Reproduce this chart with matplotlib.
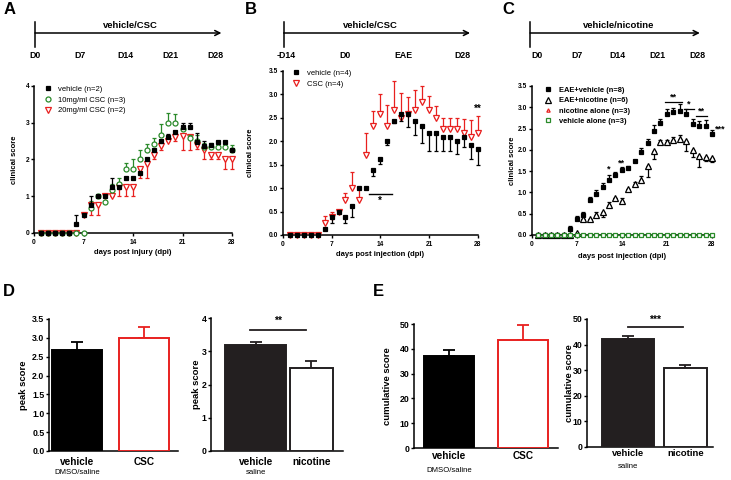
import numpy as np
import matplotlib
matplotlib.use('Agg')
import matplotlib.pyplot as plt

plt.rcParams['font.family'] = 'Liberation Sans'
plt.rcParams['font.weight'] = 'bold'
plt.rcParams['axes.linewidth'] = 1.1
plt.rcParams['xtick.major.width'] = 1.0
plt.rcParams['ytick.major.width'] = 1.0
plt.rcParams['xtick.major.size'] = 2.5
plt.rcParams['ytick.major.size'] = 2.5
plt.rcParams['xtick.major.pad'] = 1.5
plt.rcParams['ytick.major.pad'] = 1.0

# ---- data ----
days = np.arange(1, 29)

# panel A (signed error: + up, - down)
a_vehicle = [0, 0, 0, 0, 0, 0.25, 0.5, 0.75, 1.0, 1.0, 1.25, 1.25, 1.5, 1.5, 1.63, 2.0, 2.25, 2.5, 2.6,
             2.75, 2.88, 2.88, 2.48, 2.38, 2.4, 2.47, 2.47, 2.25]
a_vehicle_err = [0, 0, 0, 0, 0, 0.25, 0, 0.25, 0, 0, 0.25, 0, 0, 0, 0, 0, 0, 0, 0.1,
                 0, 0.12, 0.12, 0.25, 0.12, 0, 0, 0, 0]
a_csc10 = [0, 0, 0, 0, 0, 0, 0, 0.67, 1.0, 0.85, 1.17, 1.33, 1.75, 1.75, 2.0, 2.25, 2.42, 2.67, 3.0,
           3.0, 2.83, 2.58, 2.5, 2.33, 2.33, 2.33, 2.33, 2.25]
a_csc10_err = [0, 0, 0, 0, 0, 0, 0, 0.2, 0, 0, 0.15, 0.17, 0.15, 0.25, 0.25, 0.17, 0.17, 0.3, 0.27,
               0.25, 0.08, 0.08, 0.17, 0.12, 0.12, 0.12, 0.12, 0.15]
a_csc20 = [0, 0, 0, 0, 0, 0, 0.5, 0.75, 0.75, 1.0, 1.0, 1.25, 1.25, 1.25, 1.75, 1.88, 2.12, 2.38, 2.5,
           2.62, 2.65, 2.6, 2.4, 2.25, 2.12, 2.12, 2.0, 2.0]
a_csc20_err = [0, 0, 0, 0, 0, 0, 0, -0.25, -0.25, 0, 0, -0.25, -0.25, -0.25, -0.25, -0.38, -0.12, -0.12, 0,
               -0.12, -0.4, -0.35, -0.12, -0.25, -0.12, -0.12, -0.25, -0.25]

# panel B
b_vehicle = [0, 0, 0, 0, 0, 0.13, 0.38, 0.5, 0.38, 0.62, 1.0, 1.0, 1.38, 1.62, 2.0, 2.42, 2.58, 2.58, 2.42,
             2.33, 2.17, 2.17, 2.08, 2.08, 2.0, 2.08, 1.92, 1.83]
b_vehicle_err = [0, 0, 0, 0, 0, 0, -0.12, 0, -0.12, -0.24, 0, 0, -0.12, -0.1, -0.08, -0.03, -0.16, -0.28, -0.3,
                 -0.38, -0.37, -0.37, -0.3, -0.3, -0.28, -0.2, -0.3, -0.33]
b_csc = [0, 0, 0, 0, 0, 0.25, 0.38, 0.5, 0.75, 1.0, 0.75, 1.7, 2.33, 2.58, 2.33, 2.67, 2.5, 2.58, 2.67,
         2.83, 2.67, 2.5, 2.25, 2.25, 2.25, 2.17, 2.08, 2.17]
b_csc_err = [0, 0, 0, 0, 0, 0.15, 0.12, 0, 0.15, 0.35, 0.25, 0.47, 0.32, 0.42, 0.44, 0.6, 0.52, 0.37, 0.41,
             0.34, 0.3, 0.25, 0.25, 0.25, 0.25, 0.3, 0.37, 0.36]

# panel C
c_vehicle = [0, 0, 0, 0, 0, 0.13, 0.38, 0.48, 0.82, 0.96, 1.13, 1.3, 1.42, 1.52, 1.58, 1.73, 1.95, 2.15, 2.44,
             2.63, 2.85, 2.88, 2.92, 2.85, 2.6, 2.55, 2.57, 2.38]
c_vehicle_err = [0, 0, 0, 0, 0, 0.08, 0.07, 0.05, 0.08, 0.09, 0.1, 0.1, 0.07, 0.07, 0.04, 0.04, 0.1, 0.1, 0.14,
                 0.1, 0.1, 0.1, 0.15, 0.12, 0.12, 0.12, 0.12, 0.08]
c_nicotine = [0, 0, 0, 0, 0, 0, 0.05, 0.38, 0.38, 0.47, 0.55, 0.7, 0.88, 0.8, 1.07, 1.2, 1.3, 1.62, 1.97,
              2.18, 2.18, 2.22, 2.25, 2.2, 2.0, 1.85, 1.83, 1.8]
c_nicotine_err = [0, 0, 0, 0, 0, 0, 0, 0, 0, 0.07, -0.12, 0.07, 0, 0.06, 0, 0.05, 0.08, -0.25, -0.18,
                  0.06, 0.06, 0.08, 0.1, -0.22, -0.17, -0.25, -0.1, -0.08]
c_nic_alone = [0] * 28
c_veh_alone = [0] * 28

# bar panels
csc_groups = ['vehicle', 'CSC']
csc_sub = ['DMSO/saline', '']
nic_groups = ['vehicle', 'nicotine']
nic_sub = ['saline', '']
peak_csc, peak_csc_err = [2.67, 3.0], [0.21, 0.28]
peak_nic, peak_nic_err = [3.2, 2.5], [0.07, 0.22]
cum_csc, cum_csc_err = [37.0, 43.5], [2.7, 6.0]
cum_nic, cum_nic_err = [42.0, 30.7], [1.2, 1.3]

# timelines
tl_a_days, tl_a_labels = [0, 7, 14, 21, 28], ['D0', 'D7', 'D14', 'D21', 'D28']
tl_b_days, tl_b_labels = [-14, 0, 14, 28], ['-D14', 'D0', 'EAE', 'D28']
tl_c_days, tl_c_labels = [0, 7, 14, 21, 28], ['D0', 'D7', 'D14', 'D21', 'D28']

RED = '#e8201f'
GREEN = '#2a8a2a'

W, H = 731, 480
fig = plt.figure(figsize=(W / 100, H / 100), dpi=100)


def ax_px(x0, y0, x1, y1):
    return fig.add_axes([x0 / W, 1 - y1 / H, (x1 - x0) / W, (y1 - y0) / H])


def split(e):
    e = np.asarray(e, dtype=float)
    return [np.clip(-e, 0, None), np.clip(e, 0, None)]


def style(ax, fs):
    ax.spines['top'].set_visible(False)
    ax.spines['right'].set_visible(False)
    ax.tick_params(labelsize=fs)
    for t in ax.get_xticklabels() + ax.get_yticklabels():
        t.set_fontweight('bold')


def ylab(ax, text, x_px, fs):
    l, b, w, h = ax.get_position().bounds
    ax.set_ylabel(text, fontsize=fs, fontweight='bold', va='center')
    ax.yaxis.set_label_coords((x_px / W - l) / w, 0.5)


def xlab(ax, text, y_px, fs):
    l, b, w, h = ax.get_position().bounds
    ax.set_xlabel(text, fontsize=fs, fontweight='bold', va='center')
    ax.xaxis.set_label_coords(0.5, ((1 - y_px / H) - b) / h)


def series(ax, y, err, marker, ms, color, face, label, z):
    ax.errorbar(days, y, yerr=split(err), fmt='none', ecolor=color, elinewidth=0.9,
                capsize=1.6, capthick=0.9, zorder=z, clip_on=False)
    ax.plot(days, y, linestyle='none', marker=marker, ms=ms, mfc=face, mec=color,
            mew=0.9, label=label, zorder=z + 0.5, clip_on=False)


def timeline(x0, x1, xlim, start, end, tdays, tlabels, title, title_x):
    ax = ax_px(x0, 18, x1, 62)
    ax.set_xlim(*xlim)
    ax.set_ylim(62, 18)
    ax.axis('off')
    ax.annotate('', xy=(end, 33), xytext=(start, 33), annotation_clip=False,
                arrowprops=dict(arrowstyle='->', lw=1.1, color='black', mutation_scale=9,
                                shrinkA=0, shrinkB=0))
    ax.plot([start, start], [22, 47], color='black', lw=1.1, clip_on=False)
    for d, t in zip(tdays, tlabels):
        ax.text(d, 55, t, ha='center', va='center', fontsize=6.3, fontweight='bold')
    ax.text(title_x, 25, title, ha='center', va='center', fontsize=6.8, fontweight='bold')


legend_kw = dict(loc='upper left', frameon=False, handlelength=1.0, handletextpad=0.9,
                 labelspacing=0.45, borderpad=0)

# ---- panel A ----
timeline(35, 215, (0, 28), 0, 29.0, tl_a_days, tl_a_labels, 'vehicle/CSC', 14.8)
axA = ax_px(34, 86, 232, 233)
series(axA, a_vehicle, a_vehicle_err, 's', 3.2, 'black', 'black', 'vehicle (n=2)', 5)
series(axA, a_csc10, a_csc10_err, 'o', 3.6, GREEN, 'white', '10mg/ml CSC (n=3)', 4)
series(axA, a_csc20, a_csc20_err, 'v', 4.0, RED, 'white', '20mg/ml CSC (n=2)', 3)
axA.set_xlim(0, 28)
axA.set_ylim(0, 4)
axA.set_xticks([0, 7, 14, 21, 28])
axA.set_yticks([0, 1, 2, 3, 4])
style(axA, 4.8)
ylab(axA, 'clinical score', 14, 5.5)
xlab(axA, 'days post injury (dpi)', 252, 5.5)
axA.legend(bbox_to_anchor=(0.03, 1.03), prop={'weight': 'normal', 'size': 5.5}, **legend_kw)

# ---- panel B ----
timeline(286, 462.5, (-14, 28), -14.55, 29.8, tl_b_days, tl_b_labels, 'vehicle/CSC', 6.0)
axB = ax_px(282.7, 70.7, 478, 235)
series(axB, b_vehicle, b_vehicle_err, 's', 3.4, 'black', 'black', 'vehicle (n=4)', 5)
series(axB, b_csc, b_csc_err, 'v', 4.2, RED, 'white', 'CSC (n=4)', 4)
axB.set_xlim(0, 28)
axB.set_ylim(0, 3.5)
axB.set_xticks([0, 7, 14, 21, 28])
axB.set_yticks(np.arange(0, 3.51, 0.5))
axB.set_yticklabels([f'{v:.1f}' for v in np.arange(0, 3.51, 0.5)])
style(axB, 4.8)
ylab(axB, 'clinical score', 251, 5.5)
xlab(axB, 'days post injection (dpi)', 255, 5.5)
axB.plot([12.4, 15.6], [0.88, 0.88], color='black', lw=1.0)
axB.text(14.0, 0.72, '*', ha='center', va='center', fontsize=7)
axB.text(28.0, 2.68, '**', ha='center', va='center', fontsize=7)
axB.legend(bbox_to_anchor=(0.03, 1.03), prop={'weight': 'normal', 'size': 5.5}, **legend_kw)

# ---- panel C ----
timeline(537.5, 697, (0, 28), -1.3, 28.5, tl_c_days, tl_c_labels, 'vehicle/nicotine', 14.2)
axC = ax_px(531.7, 86, 712, 235)
series(axC, c_vehicle, c_vehicle_err, 's', 3.4, 'black', 'black', 'EAE+vehicle (n=8)', 5)
series(axC, c_nicotine, c_nicotine_err, '^', 3.8, 'black', 'white', 'EAE+nicotine (n=6)', 4)
series(axC, c_nic_alone, c_nic_alone, '^', 2.4, RED, 'white', 'nicotine alone (n=3)', 3)
series(axC, c_veh_alone, c_veh_alone, 's', 2.2, GREEN, 'white', 'vehicle alone (n=3)', 6)
axC.plot(days, c_veh_alone, color=GREEN, lw=0.8, zorder=5.8, clip_on=False)
axC.set_xlim(0, 28)
axC.set_ylim(0, 3.5)
axC.set_xticks([0, 7, 14, 21, 28])
axC.set_yticks(np.arange(0, 3.51, 0.5))
axC.set_yticklabels([f'{v:.1f}' for v in np.arange(0, 3.51, 0.5)])
style(axC, 4.8)
ylab(axC, 'clinical score', 512.5, 5.5)
xlab(axC, 'days post injection (dpi)', 256, 5.5)
axC.text(12, 1.55, '*', ha='center', va='center', fontsize=6.5)
axC.text(14, 1.68, '**', ha='center', va='center', fontsize=6.5)
for (x0, x1, yl, s) in [(20.7, 23.4, 3.13, '**'), (23.6, 25.2, 2.97, '*'), (25.5, 27.3, 2.8, '**')]:
    axC.plot([x0, x1], [yl, yl], color='black', lw=0.9, clip_on=False)
    axC.text((x0 + x1) / 2, yl + 0.1, s, ha='center', va='center', fontsize=6.5)
axC.text(29.2, 2.5, '***', ha='center', va='center', fontsize=6.5, clip_on=False)
axC.legend(bbox_to_anchor=(0.05, 1.02), prop={'weight': 'bold', 'size': 5.4},
           **{**legend_kw, 'labelspacing': 0.4})


# ---- bar panels ----
def bars(ax, groups, subs, vals, errs, widths, edge, face, xlim, ylim, yticks, fmt,
         ylabel, ylab_x, sub_y, xpad, xfs):
    x = np.arange(len(groups))
    ax.bar(x, vals, width=widths, color=face, edgecolor=edge, linewidth=1.4, zorder=3)
    for xi, v, e, c in zip(x, vals, errs, edge):
        ax.errorbar(xi, v, yerr=[[0], [e]], fmt='none', ecolor=c, elinewidth=1.3,
                    capsize=4, capthick=1.3, zorder=2)
    ax.set_xlim(*xlim)
    ax.set_ylim(*ylim)
    ax.set_yticks(yticks)
    ax.set_yticklabels([fmt.format(v) for v in yticks])
    ax.set_xticks(x)
    ax.set_xticklabels(groups)
    ax.tick_params(axis='x', length=0, pad=xpad)
    ax.tick_params(axis='y', pad=0.8)
    style(ax, 6.3)
    for t in ax.get_xticklabels():
        t.set_fontsize(xfs)
    l, b, w, h = ax.get_position().bounds
    for xi, s in zip(x, subs):
        ax.text(xi, ((1 - sub_y / H) - b) / h, s, transform=ax.get_xaxis_transform(),
                ha='center', va='center', fontsize=5.6, fontweight='normal')
    ylab(ax, ylabel, ylab_x, 6.8)


axD1 = ax_px(49, 319, 178, 451)
bars(axD1, csc_groups, csc_sub, peak_csc, peak_csc_err, [0.75, 0.75], ['black', RED], ['black', 'white'],
     (-0.42, 1.51), (0, 3.5), list(np.arange(0, 3.51, 0.5)), '{:.1f}', 'peak score', 23, 473, 4, 7.2)

axD2 = ax_px(211, 318, 343, 451)
bars(axD2, nic_groups, nic_sub, peak_nic, peak_nic_err, [1.1, 0.78], ['#231f20', '#231f20'], ['#231f20', 'white'],
     (-0.81, 1.57), (0, 4), [0, 1, 2, 3, 4], '{:.0f}', 'peak score', 197, 472, 4, 7.2)
axD2.plot([-0.1, 0.9], [3.64, 3.64], color='#231f20', lw=1.3)
axD2.text(0.4, 3.9, '**', ha='center', va='center', fontsize=7.5)

axE1 = ax_px(414, 324, 558, 448)
bars(axE1, csc_groups, csc_sub, cum_csc, cum_csc_err, [0.68, 0.68], ['black', RED], ['black', 'white'],
     (-0.48, 1.48), (0, 50), [0, 10, 20, 30, 40, 50], '{:.0f}', 'cumulative score', 388, 470, 2.5, 7.2)

axE2 = ax_px(587, 319, 713, 447)
bars(axE2, nic_groups, nic_sub, cum_nic, cum_nic_err, [0.9, 0.75], ['#231f20', '#231f20'], ['#231f20', 'white'],
     (-0.71, 1.48), (0, 50), [0, 10, 20, 30, 40, 50], '{:.0f}', 'cumulative score', 569, 466, 1.5, 6.8)
axE2.plot([0.0, 0.96], [46.9, 46.9], color='#231f20', lw=1.3)
axE2.text(0.48, 49.5, '***', ha='center', va='center', fontsize=7.5)

# panel letters
for s, x, y in [('A', 4, 10), ('B', 245, 10), ('C', 502, 10), ('D', 3, 291), ('E', 373, 291)]:
    fig.text(x / W, 1 - y / H, s, fontsize=12, fontweight='bold', ha='left', va='center')

fig.savefig('out.png', dpi=100)
